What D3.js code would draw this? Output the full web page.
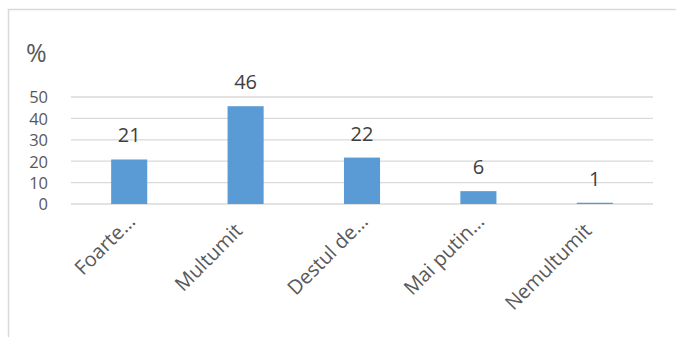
<!DOCTYPE html>
<html><head><meta charset="utf-8">
<script src="https://cdn.jsdelivr.net/npm/d3@7"></script>
<style>body{margin:0;background:#fff}svg{display:block}text{font-family:"Open Sans",sans-serif}</style>
</head><body>
<script>
const categories = ["Foarte…", "Multumit", "Destul de…", "Mai putin…", "Nemultumit"];
const values = [20.8, 45.7, 21.7, 6, 0.6];
const yTicks = [0, 10, 20, 30, 40, 50];
const yTitle = "%";

const W = 676, H = 337;
const svg = d3.select("body").append("svg").attr("width", W).attr("height", H);
svg.append("rect").attr("width", W).attr("height", H).attr("fill", "#fff");
svg.append("rect").attr("x", 8.5).attr("y", 9.5).attr("width", W + 20).attr("height", H + 20)
  .attr("fill", "none").attr("stroke", "#d9d9d9").attr("stroke-width", 1.5);

const x = d3.scaleBand().domain(categories).range([71, 653]).paddingInner(0.69).paddingOuter(0.345);
const y = d3.scaleLinear().domain([0, 50]).range([204, 97]);

// gridlines
svg.append("g").selectAll("line").data(yTicks).join("line")
  .attr("x1", 71).attr("x2", 653)
  .attr("y1", d => y(d)).attr("y2", d => y(d))
  .attr("stroke", "#d9d9d9").attr("stroke-width", 1.3);

// y axis labels
const yAxis = d3.axisLeft(y).tickValues(yTicks).tickSize(0).tickPadding(0);
const gy = svg.append("g").attr("transform", "translate(48,0)").call(yAxis);
gy.select(".domain").remove();
gy.selectAll("text").attr("font-size", 16.5).attr("fill", "#595959").attr("font-family", "Liberation Sans").attr("dy", "0.36em");

svg.append("text").attr("x", 26).attr("y", 62).attr("font-size", 25).attr("fill", "#595959").text(yTitle);

// bars
svg.append("g").selectAll("rect").data(values).join("rect")
  .attr("x", (d, i) => x(categories[i]))
  .attr("width", x.bandwidth())
  .attr("y", d => y(d))
  .attr("height", d => y(0) - y(d))
  .attr("fill", "#5b9bd5");

// value labels
svg.append("g").selectAll("text").data(values).join("text")
  .attr("x", (d, i) => x(categories[i]) + x.bandwidth() / 2)
  .attr("y", d => y(d) - 17)
  .attr("text-anchor", "middle")
  .attr("font-size", 20).attr("fill", "#404040")
  .text(d => d3.format(".0f")(d));

// x labels
const xAxis = d3.axisBottom(x).tickSize(0).tickPadding(0);
const gx = svg.append("g").call(xAxis);
gx.select(".domain").remove();
gx.selectAll(".tick").attr("transform", null);
gx.selectAll("text")
  .attr("font-size", 20).attr("fill", "#595959").attr("font-family", "Open Sans")
  .attr("text-anchor", "end").attr("y", null).attr("dy", null)
  .attr("dx", d => d.endsWith("…") ? 13 : 0)
  .attr("transform", d => `translate(${x(d) + x.bandwidth() / 2 - 2},232) rotate(-45)`);
</script>
</body></html>
